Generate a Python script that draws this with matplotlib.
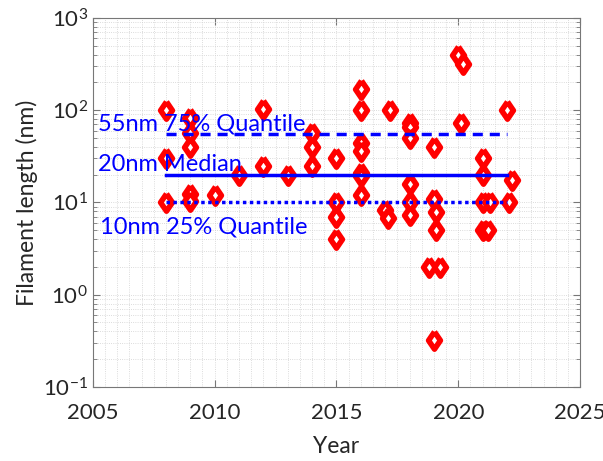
import matplotlib
matplotlib.use("Agg")
import matplotlib.pyplot as plt
from matplotlib.ticker import LogLocator, MultipleLocator

plt.rcParams['font.family'] = ['Lato', 'DejaVu Sans']
plt.rcParams['mathtext.fontset'] = 'custom'
plt.rcParams['mathtext.rm'] = 'Lato'
plt.rcParams['mathtext.it'] = 'Lato'
plt.rcParams['mathtext.default'] = 'regular'

# publication year and reported filament length (nm)
years = [2008, 2008, 2008,
         2009, 2009, 2009, 2009, 2009,
         2010, 2011, 2012, 2012, 2013,
         2014, 2014, 2014,
         2015, 2015, 2015, 2015,
         2016, 2016, 2016, 2016, 2016, 2016, 2016,
         2017.2, 2017.0, 2017.1,
         2018, 2018, 2018, 2018, 2018, 2018,
         2019, 2019, 2019.1, 2019.1, 2018.8, 2019.25, 2019,
         2020, 2020.2, 2020.1,
         2021, 2021, 2021, 2021.3, 2021, 2021.2,
         2022, 2022.2, 2022.1]
lengths = [100, 30, 10,
           82, 56, 40, 12.3, 10.3,
           12, 20, 104, 25, 20,
           56, 40, 25,
           30, 10, 7, 4,
           168, 100, 44, 36, 21, 19.5, 12,
           100, 8.2, 6.8,
           72, 65, 50, 16, 10, 7.3,
           40, 10.8, 7.8, 5, 2, 2, 0.32,
           400, 320, 72,
           30, 20, 10, 10, 5, 5,
           100, 17.5, 10]

line_years = [2008, 2022]
q75 = 55
median = 20
q25 = 10

fig = plt.figure(figsize=(6.03, 4.61), dpi=100)
ax = fig.add_axes([0.154, 0.161, 0.808, 0.8])

# diamond a bit wider than matplotlib's thin 'd'
diamond = [(0, 1), (0.68, 0), (0, -1), (-0.68, 0), (0, 1)]
ax.plot(years, lengths, linestyle='none', marker=diamond, color='red',
        mfc='white', mec='red', ms=12.5, mew=4, zorder=3)

ax.plot(line_years, [q75, q75], '--', color='blue', lw=2.5, dashes=(2.9, 2.0), zorder=4)
ax.plot(line_years, [median, median], '-', color='blue', lw=2.5, zorder=4)
ax.plot(line_years, [q25, q25], ':', color='blue', lw=2.5, dashes=(1, 1), zorder=4)

ax.text(2005.2, 71, '55nm 75% Quantile', color='blue', fontsize=17, va='center', zorder=5)
ax.text(2005.2, 25.5, '20nm Median', color='blue', fontsize=17, va='center', zorder=5)
ax.text(2005.3, 5.4, '10nm 25% Quantile', color='blue', fontsize=17, va='center', zorder=5)

ax.set_yscale('log')
ax.set_xlim(2005, 2025)
ax.set_ylim(0.1, 1000)
ax.xaxis.set_major_locator(MultipleLocator(5))
ax.xaxis.set_minor_locator(MultipleLocator(0.5))
ax.yaxis.set_major_locator(LogLocator(base=10, numticks=10))
ax.yaxis.set_minor_locator(LogLocator(base=10, subs=range(2, 10), numticks=20))

ax.grid(which='both', color='#d0d0d0', linestyle=':', linewidth=0.6)
ax.set_axisbelow(True)

for s in ax.spines.values():
    s.set_color('#777777')
    s.set_linewidth(0.8)
ax.tick_params(which='both', direction='in', top=True, right=True,
               colors='#777777', labelcolor='#262626', labelsize=16)
ax.tick_params(which='major', length=5)
ax.tick_params(axis='x', which='minor', length=0)
ax.tick_params(axis='y', which='minor', length=3)
ax.tick_params(axis='x', which='major', pad=12)

ax.set_xlabel('Year', fontsize=16.5, color='#262626', labelpad=9)
ax.set_ylabel('Filament length (nm)', fontsize=16.5, color='#262626', labelpad=4)

fig.savefig('out.png', dpi=100)
